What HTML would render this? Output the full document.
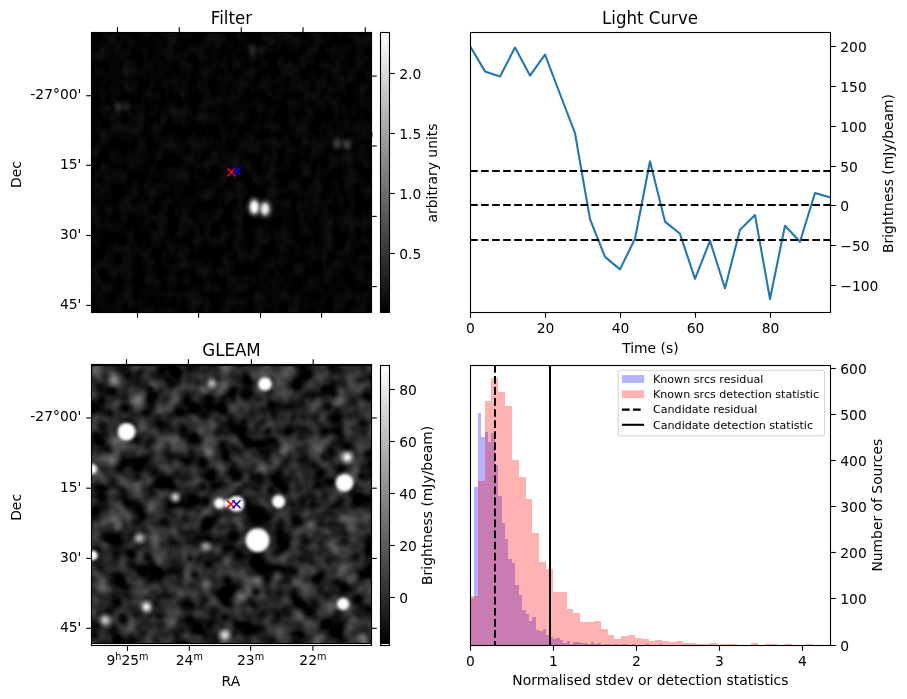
<!DOCTYPE html>
<html lang="en"><head><meta charset="utf-8"><title>Candidate diagnostic plot</title>
<style>html,body{margin:0;padding:0;background:#fff;}svg{display:block;}text{font-family:'DejaVu Sans','Liberation Sans',sans-serif;fill:#000;}</style>
</head><body>
<svg width="907" height="699" viewBox="0 0 907 699">
<defs>
<linearGradient id="gcb" x1="0" y1="0" x2="0" y2="1"><stop offset="0" stop-color="#fff"/><stop offset="1" stop-color="#000"/></linearGradient>
<radialGradient id="gw"><stop offset="0.0" stop-color="#fff" stop-opacity="1.000"/><stop offset="0.1" stop-color="#fff" stop-opacity="0.970"/><stop offset="0.2" stop-color="#fff" stop-opacity="0.886"/><stop offset="0.3" stop-color="#fff" stop-opacity="0.761"/><stop offset="0.4" stop-color="#fff" stop-opacity="0.613"/><stop offset="0.5" stop-color="#fff" stop-opacity="0.461"/><stop offset="0.6" stop-color="#fff" stop-opacity="0.321"/><stop offset="0.7" stop-color="#fff" stop-opacity="0.202"/><stop offset="0.8" stop-color="#fff" stop-opacity="0.111"/><stop offset="0.9" stop-color="#fff" stop-opacity="0.045"/><stop offset="1.0" stop-color="#fff" stop-opacity="0.000"/></radialGradient>
<radialGradient id="gk"><stop offset="0.0" stop-color="#000" stop-opacity="1.000"/><stop offset="0.1" stop-color="#000" stop-opacity="0.970"/><stop offset="0.2" stop-color="#000" stop-opacity="0.886"/><stop offset="0.3" stop-color="#000" stop-opacity="0.761"/><stop offset="0.4" stop-color="#000" stop-opacity="0.613"/><stop offset="0.5" stop-color="#000" stop-opacity="0.461"/><stop offset="0.6" stop-color="#000" stop-opacity="0.321"/><stop offset="0.7" stop-color="#000" stop-opacity="0.202"/><stop offset="0.8" stop-color="#000" stop-opacity="0.111"/><stop offset="0.9" stop-color="#000" stop-opacity="0.045"/><stop offset="1.0" stop-color="#000" stop-opacity="0.000"/></radialGradient>
<filter id="b15" x="-50%" y="-50%" width="200%" height="200%"><feGaussianBlur stdDeviation="1.5"/></filter>
<filter id="b1" x="-50%" y="-50%" width="200%" height="200%"><feGaussianBlur stdDeviation="1.2"/></filter>
<filter id="b2" x="-50%" y="-50%" width="200%" height="200%"><feGaussianBlur stdDeviation="2.2"/></filter>
<filter id="b3" x="-50%" y="-50%" width="200%" height="200%"><feGaussianBlur stdDeviation="3.2"/></filter>
<filter id="noiseG" x="0" y="0" width="100%" height="100%" color-interpolation-filters="sRGB"><feTurbulence type="fractalNoise" baseFrequency="0.055" numOctaves="2" seed="7"/><feColorMatrix type="matrix" values="0.68 0 0 0 -0.2  0.68 0 0 0 -0.2  0.68 0 0 0 -0.2  0 0 0 0 1"/></filter>
<filter id="noiseF" x="0" y="0" width="100%" height="100%" color-interpolation-filters="sRGB"><feTurbulence type="fractalNoise" baseFrequency="0.09 0.065" numOctaves="2" seed="11"/><feColorMatrix type="matrix" values="0.14 0 0 0 -0.05  0.14 0 0 0 -0.05  0.14 0 0 0 -0.05  0 0 0 0 1"/></filter>
<clipPath id="cTL"><rect x="91.50" y="32.50" width="280.00" height="280.00"/></clipPath>
<clipPath id="cBL"><rect x="91.50" y="364.50" width="280.00" height="281.00"/></clipPath>
<clipPath id="cBR"><rect x="470.50" y="365.50" width="360.00" height="280.00"/></clipPath>
<clipPath id="cTR"><rect x="470.50" y="32.50" width="360.00" height="280.00"/></clipPath>
</defs>
<rect width="907" height="699" fill="#fff"/>
<g clip-path="url(#cTL)">
<rect x="91.50" y="32.50" width="280.00" height="280.00" fill="#060606"/>
<rect x="91.50" y="32.50" width="280.00" height="280.00" filter="url(#noiseF)"/>
<ellipse cx="254.3" cy="206.9" rx="3.9" ry="6.0" fill="#ffffff" opacity="1.0" filter="url(#b15)"/>
<ellipse cx="265.0" cy="208.9" rx="3.7" ry="5.6" fill="#ffffff" opacity="0.88" filter="url(#b15)"/>
<ellipse cx="254.3" cy="206.9" rx="5.6" ry="8.8" fill="#ffffff" opacity="0.5" filter="url(#b2)"/>
<ellipse cx="265.0" cy="208.9" rx="5.6" ry="8.5" fill="#ffffff" opacity="0.45" filter="url(#b2)"/>
<ellipse cx="337.0" cy="143.6" rx="3.6" ry="5.4" fill="#ffffff" opacity="0.27" filter="url(#b2)"/>
<ellipse cx="347.0" cy="144.4" rx="3.6" ry="5.4" fill="#ffffff" opacity="0.26" filter="url(#b2)"/>
<ellipse cx="118.0" cy="106.4" rx="3.4" ry="5.2" fill="#ffffff" opacity="0.19" filter="url(#b2)"/>
<ellipse cx="126.0" cy="106.2" rx="3.4" ry="5.2" fill="#ffffff" opacity="0.13" filter="url(#b2)"/>
<ellipse cx="252.0" cy="49.6" rx="3.6" ry="5.2" fill="#ffffff" opacity="0.14" filter="url(#b2)"/>
<ellipse cx="262.0" cy="50.0" rx="3.0" ry="4.6" fill="#ffffff" opacity="0.08" filter="url(#b2)"/>
</g>
<g clip-path="url(#cBL)">
<rect x="91.50" y="364.50" width="280.00" height="281.00" fill="#2a2a2a"/>
<rect x="91.50" y="364.50" width="280.00" height="281.00" filter="url(#noiseG)"/>
<circle cx="128" cy="375" r="8.5" fill="url(#gk)" opacity="0.90"/>
<circle cx="125" cy="408" r="11.4" fill="url(#gk)" opacity="0.95"/>
<circle cx="209" cy="400" r="11.4" fill="url(#gk)" opacity="0.95"/>
<circle cx="183" cy="430" r="10.4" fill="url(#gk)" opacity="0.90"/>
<circle cx="155" cy="472" r="9.5" fill="url(#gk)" opacity="0.90"/>
<circle cx="150" cy="390" r="7.6" fill="url(#gk)" opacity="0.80"/>
<circle cx="137" cy="477" r="7.6" fill="url(#gk)" opacity="0.80"/>
<circle cx="102" cy="427" r="7.6" fill="url(#gk)" opacity="0.70"/>
<circle cx="203" cy="487" r="7.6" fill="url(#gk)" opacity="0.80"/>
<circle cx="246" cy="395" r="9.5" fill="url(#gk)" opacity="0.90"/>
<circle cx="244" cy="422" r="8.5" fill="url(#gk)" opacity="0.85"/>
<circle cx="268" cy="431" r="7.6" fill="url(#gk)" opacity="0.80"/>
<circle cx="236" cy="476" r="9.5" fill="url(#gk)" opacity="0.90"/>
<circle cx="262" cy="451" r="7.6" fill="url(#gk)" opacity="0.80"/>
<circle cx="260" cy="482" r="7.6" fill="url(#gk)" opacity="0.80"/>
<circle cx="324" cy="457" r="8.5" fill="url(#gk)" opacity="0.85"/>
<circle cx="362" cy="476" r="8.5" fill="url(#gk)" opacity="0.85"/>
<circle cx="328" cy="407" r="8.5" fill="url(#gk)" opacity="0.80"/>
<circle cx="274" cy="413" r="7.6" fill="url(#gk)" opacity="0.75"/>
<circle cx="208" cy="522" r="10.4" fill="url(#gk)" opacity="0.95"/>
<circle cx="117" cy="602" r="10.4" fill="url(#gk)" opacity="0.95"/>
<circle cx="147.5" cy="557.5" r="8.5" fill="url(#gk)" opacity="0.90"/>
<circle cx="195" cy="574.6" r="8.5" fill="url(#gk)" opacity="0.90"/>
<circle cx="225" cy="618" r="10.4" fill="url(#gk)" opacity="0.90"/>
<circle cx="100" cy="567.5" r="7.6" fill="url(#gk)" opacity="0.75"/>
<circle cx="120" cy="579.6" r="7.6" fill="url(#gk)" opacity="0.75"/>
<circle cx="190" cy="558.5" r="7.6" fill="url(#gk)" opacity="0.80"/>
<circle cx="123" cy="620" r="7.6" fill="url(#gk)" opacity="0.75"/>
<circle cx="182" cy="630" r="7.6" fill="url(#gk)" opacity="0.70"/>
<circle cx="258" cy="519" r="18.1" fill="url(#gk)" opacity="1.00"/>
<circle cx="256" cy="516" r="11.4" fill="url(#gk)" opacity="1.00"/>
<circle cx="255.5" cy="563" r="16.1" fill="url(#gk)" opacity="1.00"/>
<circle cx="255.5" cy="561" r="9.5" fill="url(#gk)" opacity="1.00"/>
<circle cx="235" cy="535" r="9.5" fill="url(#gk)" opacity="0.85"/>
<circle cx="281" cy="541" r="9.5" fill="url(#gk)" opacity="0.85"/>
<circle cx="296.6" cy="520" r="8.5" fill="url(#gk)" opacity="0.85"/>
<circle cx="256" cy="592" r="8.5" fill="url(#gk)" opacity="0.85"/>
<circle cx="358" cy="600" r="8.5" fill="url(#gk)" opacity="0.85"/>
<circle cx="331" cy="621" r="8.5" fill="url(#gk)" opacity="0.80"/>
<circle cx="337" cy="582.7" r="7.6" fill="url(#gk)" opacity="0.80"/>
<circle cx="357" cy="556" r="7.6" fill="url(#gk)" opacity="0.75"/>
<circle cx="205" cy="502.2" r="9.5" fill="url(#gk)" opacity="0.95"/>
<circle cx="237.2" cy="475.7" r="9.5" fill="url(#gk)" opacity="0.90"/>
<circle cx="258.7" cy="476.4" r="8.5" fill="url(#gk)" opacity="0.85"/>
<circle cx="253" cy="511" r="13.3" fill="url(#gk)" opacity="0.95"/>
<circle cx="267" cy="517" r="12.3" fill="url(#gk)" opacity="0.95"/>
<circle cx="271.5" cy="490.7" r="8.5" fill="url(#gk)" opacity="0.85"/>
<circle cx="281.6" cy="540" r="8.5" fill="url(#gk)" opacity="0.85"/>
<circle cx="234" cy="537" r="8.5" fill="url(#gk)" opacity="0.85"/>
<circle cx="256.5" cy="557" r="9.5" fill="url(#gk)" opacity="0.90"/>
<circle cx="297" cy="521.5" r="8.5" fill="url(#gk)" opacity="0.80"/>
<circle cx="260" cy="513.5" r="6.5" fill="#000" opacity="0.85" filter="url(#b2)"/>
<circle cx="256" cy="562" r="4.5" fill="#000" opacity="0.85" filter="url(#b2)"/>
<circle cx="205" cy="502.2" r="3" fill="#000" opacity="0.85" filter="url(#b2)"/>
<circle cx="208.6" cy="522.2" r="3" fill="#000" opacity="0.85" filter="url(#b2)"/>
<circle cx="237.2" cy="475.7" r="3" fill="#000" opacity="0.85" filter="url(#b2)"/>
<circle cx="125" cy="408" r="3.5" fill="#000" opacity="0.85" filter="url(#b2)"/>
<circle cx="209" cy="400" r="3.5" fill="#000" opacity="0.85" filter="url(#b2)"/>
<circle cx="117" cy="602" r="3.2" fill="#000" opacity="0.85" filter="url(#b2)"/>
<circle cx="208" cy="522" r="3.2" fill="#000" opacity="0.85" filter="url(#b2)"/>
<circle cx="114" cy="380" r="10.2" fill="url(#gw)" opacity="0.38"/>
<circle cx="138" cy="398" r="10.2" fill="url(#gw)" opacity="0.3"/>
<circle cx="111" cy="460.7" r="13.6" fill="url(#gw)" opacity="0.22"/>
<circle cx="209" cy="453" r="10.2" fill="url(#gw)" opacity="0.2"/>
<circle cx="167" cy="435" r="15.3" fill="url(#gw)" opacity="0.12"/>
<circle cx="293" cy="371" r="10.2" fill="url(#gw)" opacity="0.22"/>
<circle cx="341" cy="400" r="10.2" fill="url(#gw)" opacity="0.22"/>
<circle cx="358" cy="391" r="8.5" fill="url(#gw)" opacity="0.15"/>
<circle cx="284" cy="451" r="9.3" fill="url(#gw)" opacity="0.2"/>
<circle cx="312" cy="459" r="10.2" fill="url(#gw)" opacity="0.14"/>
<circle cx="117" cy="527" r="10.2" fill="url(#gw)" opacity="0.28"/>
<circle cx="159.6" cy="559.5" r="10.2" fill="url(#gw)" opacity="0.2"/>
<circle cx="206" cy="585.7" r="10.2" fill="url(#gw)" opacity="0.27"/>
<circle cx="311.7" cy="525" r="10.2" fill="url(#gw)" opacity="0.3"/>
<circle cx="257" cy="580.6" r="10.2" fill="url(#gw)" opacity="0.36"/>
<circle cx="240" cy="597" r="10.2" fill="url(#gw)" opacity="0.3"/>
<circle cx="277.4" cy="576.6" r="9.3" fill="url(#gw)" opacity="0.3"/>
<circle cx="298.6" cy="615" r="10.2" fill="url(#gw)" opacity="0.28"/>
<circle cx="345" cy="519" r="10.2" fill="url(#gw)" opacity="0.2"/>
<circle cx="363" cy="638" r="10.2" fill="url(#gw)" opacity="0.3"/>
<circle cx="347" cy="567.5" r="15.3" fill="url(#gw)" opacity="0.18"/>
<circle cx="330" cy="545" r="13.6" fill="url(#gw)" opacity="0.12"/>
<circle cx="310" cy="590" r="13.6" fill="url(#gw)" opacity="0.12"/>
<circle cx="223" cy="521.5" r="8.5" fill="url(#gw)" opacity="0.12"/>
<circle cx="347.2" cy="457.1" r="9.5" fill="url(#gw)" opacity="0.95"/>
<circle cx="139.4" cy="538.3" r="8.5" fill="url(#gw)" opacity="0.62"/>
<circle cx="206" cy="546.4" r="8.5" fill="url(#gw)" opacity="0.5"/>
<circle cx="175.4" cy="497.2" r="8.5" fill="url(#gw)" opacity="0.78"/>
<circle cx="211.8" cy="383.5" r="8.5" fill="url(#gw)" opacity="0.62"/>
<circle cx="146.5" cy="606.9" r="9.5" fill="url(#gw)" opacity="0.92"/>
<circle cx="105" cy="620" r="9.5" fill="url(#gw)" opacity="0.72"/>
<circle cx="225" cy="635" r="9" fill="url(#gw)" opacity="0.78"/>
<circle cx="126.6" cy="431.7" r="12.6" fill="url(#gw)" opacity="0.45"/>
<circle cx="126.6" cy="431.7" r="8.8" fill="#fff" filter="url(#b15)"/>
<circle cx="92" cy="469.1" r="8.7" fill="url(#gw)" opacity="0.45"/>
<circle cx="92" cy="469.1" r="4.8" fill="#fff" filter="url(#b15)"/>
<circle cx="265" cy="384" r="10.5" fill="url(#gw)" opacity="0.45"/>
<circle cx="265" cy="384" r="6.6" fill="#fff" filter="url(#b15)"/>
<circle cx="344.6" cy="482.8" r="12.7" fill="url(#gw)" opacity="0.45"/>
<circle cx="344.6" cy="482.8" r="8.8" fill="#fff" filter="url(#b15)"/>
<circle cx="278.6" cy="501.6" r="10.2" fill="url(#gw)" opacity="0.45"/>
<circle cx="278.6" cy="501.6" r="6.3" fill="#fff" filter="url(#b15)"/>
<circle cx="219.5" cy="503.3" r="9.0" fill="url(#gw)" opacity="0.45"/>
<circle cx="219.5" cy="503.3" r="5.1" fill="#fff" filter="url(#b15)"/>
<circle cx="236.3" cy="503.7" r="11.7" fill="url(#gw)" opacity="0.45"/>
<circle cx="236.3" cy="503.7" r="7.8" fill="#fff" filter="url(#b15)"/>
<circle cx="227.5" cy="503.5" r="7.5" fill="url(#gw)" opacity="0.45"/>
<circle cx="227.5" cy="503.5" r="3.6" fill="#fff" filter="url(#b15)"/>
<circle cx="257.5" cy="540.2" r="15.5" fill="url(#gw)" opacity="0.45"/>
<circle cx="257.5" cy="540.2" r="11.7" fill="#fff" filter="url(#b15)"/>
<circle cx="92.8" cy="555.4" r="8.5" fill="url(#gw)" opacity="0.45"/>
<circle cx="92.8" cy="555.4" r="4.6" fill="#fff" filter="url(#b15)"/>
<circle cx="343" cy="603.9" r="9.7" fill="url(#gw)" opacity="0.45"/>
<circle cx="343" cy="603.9" r="5.8" fill="#fff" filter="url(#b15)"/>
<rect x="91.50" y="643" width="280.00" height="1" fill="#000"/>
<rect x="91.50" y="644" width="280.00" height="1.5" fill="#fff"/>
<rect x="91.50" y="364.5" width="280.00" height="1.5" fill="#000"/>
</g>
<path d="M227.40 168.40L235.40 176.40M227.40 176.40L235.40 168.40" stroke="#ff0000" stroke-width="1.6" fill="none"/>
<path d="M232.70 167.30L240.70 175.30M232.70 175.30L240.70 167.30" stroke="#0000ff" stroke-width="1.6" fill="none"/>
<path d="M226.80 500.30L234.80 508.30M226.80 508.30L234.80 500.30" stroke="#ff0000" stroke-width="1.6" fill="none"/>
<path d="M232.50 500.30L240.50 508.30M232.50 508.30L240.50 500.30" stroke="#0000ff" stroke-width="1.6" fill="none"/>
<rect x="380.50" y="32.50" width="9.00" height="280.00" fill="url(#gcb)"/>
<rect x="380.50" y="365.50" width="9.00" height="280.00" fill="url(#gcb)"/>
<rect x="380.50" y="644" width="9.00" height="1.5" fill="#fff"/>
<rect x="380.50" y="32.50" width="9.00" height="280.00" fill="none" stroke="#000" stroke-width="1.11" />
<rect x="380.50" y="365.50" width="9.00" height="280.00" fill="none" stroke="#000" stroke-width="1.11" />
<line x1="389.50" y1="73.50" x2="394.80" y2="73.50" stroke="#000" stroke-width="1.11" />
<text x="399.20" y="78.60" font-size="13.89" text-anchor="start" >2.0</text>
<line x1="389.50" y1="133.50" x2="394.80" y2="133.50" stroke="#000" stroke-width="1.11" />
<text x="399.20" y="138.60" font-size="13.89" text-anchor="start" >1.5</text>
<line x1="389.50" y1="193.50" x2="394.80" y2="193.50" stroke="#000" stroke-width="1.11" />
<text x="399.20" y="198.60" font-size="13.89" text-anchor="start" >1.0</text>
<line x1="389.50" y1="253.50" x2="394.80" y2="253.50" stroke="#000" stroke-width="1.11" />
<text x="399.20" y="258.60" font-size="13.89" text-anchor="start" >0.5</text>
<line x1="389.50" y1="389.50" x2="394.80" y2="389.50" stroke="#000" stroke-width="1.11" />
<text x="399.20" y="394.60" font-size="13.89" text-anchor="start" >80</text>
<line x1="389.50" y1="441.50" x2="394.80" y2="441.50" stroke="#000" stroke-width="1.11" />
<text x="399.20" y="446.60" font-size="13.89" text-anchor="start" >60</text>
<line x1="389.50" y1="493.50" x2="394.80" y2="493.50" stroke="#000" stroke-width="1.11" />
<text x="399.20" y="498.60" font-size="13.89" text-anchor="start" >40</text>
<line x1="389.50" y1="545.50" x2="394.80" y2="545.50" stroke="#000" stroke-width="1.11" />
<text x="399.20" y="550.60" font-size="13.89" text-anchor="start" >20</text>
<line x1="389.50" y1="597.50" x2="394.80" y2="597.50" stroke="#000" stroke-width="1.11" />
<text x="399.20" y="602.60" font-size="13.89" text-anchor="start" >0</text>
<text transform="translate(436.80,173.00) rotate(-90)" font-size="13.89" text-anchor="middle">arbitrary units</text>
<text transform="translate(432.30,505.40) rotate(-90)" font-size="13.89" text-anchor="middle">Brightness (mJy/beam)</text>
<rect x="91.50" y="32.50" width="280.00" height="280.00" fill="none" stroke="#000" stroke-width="1.11" />
<rect x="91.50" y="364.50" width="280.00" height="281.00" fill="none" stroke="#000" stroke-width="1.11" />
<line x1="117.50" y1="27.20" x2="117.50" y2="32.50" stroke="#000" stroke-width="1.11" />
<line x1="179.30" y1="27.20" x2="179.30" y2="32.50" stroke="#000" stroke-width="1.11" />
<line x1="241.30" y1="27.20" x2="241.30" y2="32.50" stroke="#000" stroke-width="1.11" />
<line x1="303.00" y1="27.20" x2="303.00" y2="32.50" stroke="#000" stroke-width="1.11" />
<line x1="365.30" y1="27.20" x2="365.30" y2="32.50" stroke="#000" stroke-width="1.11" />
<line x1="137.50" y1="312.50" x2="137.50" y2="317.80" stroke="#000" stroke-width="1.11" />
<line x1="198.60" y1="312.50" x2="198.60" y2="317.80" stroke="#000" stroke-width="1.11" />
<line x1="260.50" y1="312.50" x2="260.50" y2="317.80" stroke="#000" stroke-width="1.11" />
<line x1="321.60" y1="312.50" x2="321.60" y2="317.80" stroke="#000" stroke-width="1.11" />
<line x1="86.20" y1="95.75" x2="91.50" y2="95.75" stroke="#000" stroke-width="1.11" />
<line x1="86.20" y1="165.30" x2="91.50" y2="165.30" stroke="#000" stroke-width="1.11" />
<line x1="86.20" y1="235.50" x2="91.50" y2="235.50" stroke="#000" stroke-width="1.11" />
<line x1="86.20" y1="305.40" x2="91.50" y2="305.40" stroke="#000" stroke-width="1.11" />
<line x1="371.50" y1="76.10" x2="376.80" y2="76.10" stroke="#000" stroke-width="1.11" />
<line x1="371.50" y1="146.00" x2="376.80" y2="146.00" stroke="#000" stroke-width="1.11" />
<line x1="371.50" y1="216.40" x2="376.80" y2="216.40" stroke="#000" stroke-width="1.11" />
<line x1="371.50" y1="286.60" x2="376.80" y2="286.60" stroke="#000" stroke-width="1.11" />
<rect x="372.05" y="132.6" width="0.9" height="4.6" fill="#000" opacity="0.45"/>
<text x="81.40" y="99.05" font-size="13.89" text-anchor="end" >-27°00'</text>
<text x="81.40" y="168.60" font-size="13.89" text-anchor="end" >15'</text>
<text x="81.40" y="238.80" font-size="13.89" text-anchor="end" >30'</text>
<text x="81.40" y="308.70" font-size="13.89" text-anchor="end" >45'</text>
<line x1="127.50" y1="645.50" x2="127.50" y2="650.80" stroke="#000" stroke-width="1.11" />
<line x1="189.30" y1="645.50" x2="189.30" y2="650.80" stroke="#000" stroke-width="1.11" />
<line x1="250.60" y1="645.50" x2="250.60" y2="650.80" stroke="#000" stroke-width="1.11" />
<line x1="312.90" y1="645.50" x2="312.90" y2="650.80" stroke="#000" stroke-width="1.11" />
<line x1="126.50" y1="359.20" x2="126.50" y2="364.50" stroke="#000" stroke-width="1.11" />
<line x1="188.40" y1="359.20" x2="188.40" y2="364.50" stroke="#000" stroke-width="1.11" />
<line x1="251.40" y1="359.20" x2="251.40" y2="364.50" stroke="#000" stroke-width="1.11" />
<line x1="313.20" y1="359.20" x2="313.20" y2="364.50" stroke="#000" stroke-width="1.11" />
<line x1="86.20" y1="418.00" x2="91.50" y2="418.00" stroke="#000" stroke-width="1.11" />
<line x1="371.50" y1="418.00" x2="376.80" y2="418.00" stroke="#000" stroke-width="1.11" />
<line x1="86.20" y1="488.20" x2="91.50" y2="488.20" stroke="#000" stroke-width="1.11" />
<line x1="371.50" y1="488.20" x2="376.80" y2="488.20" stroke="#000" stroke-width="1.11" />
<line x1="86.20" y1="558.40" x2="91.50" y2="558.40" stroke="#000" stroke-width="1.11" />
<line x1="371.50" y1="558.40" x2="376.80" y2="558.40" stroke="#000" stroke-width="1.11" />
<line x1="86.20" y1="628.30" x2="91.50" y2="628.30" stroke="#000" stroke-width="1.11" />
<line x1="371.50" y1="628.30" x2="376.80" y2="628.30" stroke="#000" stroke-width="1.11" />
<text x="81.40" y="421.30" font-size="13.89" text-anchor="end" >-27°00'</text>
<text x="81.40" y="491.50" font-size="13.89" text-anchor="end" >15'</text>
<text x="81.40" y="561.70" font-size="13.89" text-anchor="end" >30'</text>
<text x="81.40" y="631.60" font-size="13.89" text-anchor="end" >45'</text>
<text x="127.50" y="664.9" font-size="13.89" text-anchor="middle"><tspan dy="0">9</tspan><tspan font-size="9.72" dy="-5.1">h</tspan><tspan dy="5.1">25</tspan><tspan font-size="9.72" dy="-5.1">m</tspan></text>
<text x="189.30" y="664.9" font-size="13.89" text-anchor="middle"><tspan dy="0">24</tspan><tspan font-size="9.72" dy="-5.1">m</tspan></text>
<text x="250.60" y="664.9" font-size="13.89" text-anchor="middle"><tspan dy="0">23</tspan><tspan font-size="9.72" dy="-5.1">m</tspan></text>
<text x="312.90" y="664.9" font-size="13.89" text-anchor="middle"><tspan dy="0">22</tspan><tspan font-size="9.72" dy="-5.1">m</tspan></text>
<text x="230.90" y="685.50" font-size="13.89" text-anchor="middle" >RA</text>
<text transform="translate(20.90,174.50) rotate(-90)" font-size="13.89" text-anchor="middle">Dec</text>
<text transform="translate(20.90,507.40) rotate(-90)" font-size="13.89" text-anchor="middle">Dec</text>
<text transform="translate(231.50,23.90) scale(1,1.1)" font-size="16.67" text-anchor="middle">Filter</text>
<text transform="translate(650.00,23.90) scale(1,1.1)" font-size="16.67" text-anchor="middle">Light Curve</text>
<text transform="translate(231.50,355.80) scale(1,1.1)" font-size="16.67" text-anchor="middle">GLEAM</text>
<g clip-path="url(#cTR)">
<polyline points="470.00,46.00 485.00,71.40 500.00,76.40 515.00,47.60 530.00,75.60 545.00,54.70 560.00,94.00 575.00,133.20 590.00,219.10 605.00,256.90 620.00,269.40 635.00,238.70 650.00,161.30 665.00,221.60 680.00,233.80 695.00,278.80 710.00,240.90 725.00,288.20 740.00,229.70 755.00,215.10 770.00,299.00 785.00,225.70 800.00,241.70 815.00,193.00 830.00,197.40" fill="none" stroke="#1f77b4" stroke-width="2.08" stroke-linejoin="round" stroke-linecap="square"/>
<line x1="470.00" y1="171.00" x2="830.50" y2="171.00" stroke="#000" stroke-width="2.0" stroke-dasharray="7.71 3.33"/>
<line x1="470.00" y1="205.00" x2="830.50" y2="205.00" stroke="#000" stroke-width="2.0" stroke-dasharray="7.71 3.33"/>
<line x1="470.00" y1="240.00" x2="830.50" y2="240.00" stroke="#000" stroke-width="2.0" stroke-dasharray="7.71 3.33"/>
</g>
<rect x="470.50" y="32.50" width="360.00" height="280.00" fill="none" stroke="#000" stroke-width="1.11" />
<line x1="470.50" y1="312.50" x2="470.50" y2="317.80" stroke="#000" stroke-width="1.11" />
<text x="470.50" y="332.60" font-size="13.89" text-anchor="middle" >0</text>
<line x1="545.50" y1="312.50" x2="545.50" y2="317.80" stroke="#000" stroke-width="1.11" />
<text x="545.50" y="332.60" font-size="13.89" text-anchor="middle" >20</text>
<line x1="620.50" y1="312.50" x2="620.50" y2="317.80" stroke="#000" stroke-width="1.11" />
<text x="620.50" y="332.60" font-size="13.89" text-anchor="middle" >40</text>
<line x1="695.50" y1="312.50" x2="695.50" y2="317.80" stroke="#000" stroke-width="1.11" />
<text x="695.50" y="332.60" font-size="13.89" text-anchor="middle" >60</text>
<line x1="770.50" y1="312.50" x2="770.50" y2="317.80" stroke="#000" stroke-width="1.11" />
<text x="770.50" y="332.60" font-size="13.89" text-anchor="middle" >80</text>
<line x1="830.50" y1="46.50" x2="835.80" y2="46.50" stroke="#000" stroke-width="1.11" />
<text x="840.30" y="51.70" font-size="13.89" text-anchor="start" >200</text>
<line x1="830.50" y1="86.50" x2="835.80" y2="86.50" stroke="#000" stroke-width="1.11" />
<text x="840.30" y="91.70" font-size="13.89" text-anchor="start" >150</text>
<line x1="830.50" y1="126.50" x2="835.80" y2="126.50" stroke="#000" stroke-width="1.11" />
<text x="840.30" y="131.70" font-size="13.89" text-anchor="start" >100</text>
<line x1="830.50" y1="166.50" x2="835.80" y2="166.50" stroke="#000" stroke-width="1.11" />
<text x="840.30" y="171.70" font-size="13.89" text-anchor="start" >50</text>
<line x1="830.50" y1="205.50" x2="835.80" y2="205.50" stroke="#000" stroke-width="1.11" />
<text x="840.30" y="210.70" font-size="13.89" text-anchor="start" >0</text>
<line x1="830.50" y1="245.50" x2="835.80" y2="245.50" stroke="#000" stroke-width="1.11" />
<text x="840.30" y="250.70" font-size="13.89" text-anchor="start" >−50</text>
<line x1="830.50" y1="285.50" x2="835.80" y2="285.50" stroke="#000" stroke-width="1.11" />
<text x="840.30" y="290.70" font-size="13.89" text-anchor="start" >−100</text>
<text x="650.40" y="352.60" font-size="13.89" text-anchor="middle" >Time (s)</text>
<text transform="translate(893.10,173.50) rotate(-90)" font-size="13.89" text-anchor="middle">Brightness (mJy/beam)</text>
<g clip-path="url(#cBR)">
<path d="M471 645V598H474V487H478V413H481V437H485V432H488V442H491V433H495V465H498V496H502V523H505V539H508V559H512V563H515V585H519V595H522V610H526V614H529V621H532V617H536V630H539V631H543V629H546V635H550V637H553V639H556V638H560V640H563V643H567V641H570V644H573V642H577V642H580V643H584V643H587V644H591V642H594V644H597V643H601V645H604V644H608V644H611V645H614V644H618V645H621V644H625V644H628V645H632V644H635V645H638V645H642V645H645V644H649V645H652V645H655V645H659V644H662V645Z" fill="#0000ff" fill-opacity="0.3"/>
<path d="M471 645V596H478V481H485V401H491V378H498V392H505V406H512V460H519V477H526V499H532V533H539V562H546V569H553V592H560V592H567V609H573V613H580V622H587V622H594V621H601V629H608V635H614V639H621V636H628V635H635V638H642V639H649V641H655V640H662V641H669V642H676V641H683V643H690V643H696V644H703V644H710V643H717V644H724V644H731V644H737V645H744V645H751V643H758V645H765V644H772V644H778V645H785V644H792V645H799V645H806V644H813V645Z" fill="#ff0000" fill-opacity="0.3"/>
<line x1="495.00" y1="365.00" x2="495.00" y2="645.50" stroke="#000" stroke-width="2.0" stroke-dasharray="7.71 3.33"/>
<line x1="550.00" y1="365.00" x2="550.00" y2="645.50" stroke="#000" stroke-width="2.0" />
</g>
<rect x="470.50" y="365.50" width="360.00" height="280.00" fill="none" stroke="#000" stroke-width="1.11" />
<line x1="470.50" y1="645.50" x2="470.50" y2="650.80" stroke="#000" stroke-width="1.11" />
<text x="470.50" y="665.50" font-size="13.89" text-anchor="middle" >0</text>
<line x1="553.50" y1="645.50" x2="553.50" y2="650.80" stroke="#000" stroke-width="1.11" />
<text x="553.50" y="665.50" font-size="13.89" text-anchor="middle" >1</text>
<line x1="636.50" y1="645.50" x2="636.50" y2="650.80" stroke="#000" stroke-width="1.11" />
<text x="636.50" y="665.50" font-size="13.89" text-anchor="middle" >2</text>
<line x1="719.50" y1="645.50" x2="719.50" y2="650.80" stroke="#000" stroke-width="1.11" />
<text x="719.50" y="665.50" font-size="13.89" text-anchor="middle" >3</text>
<line x1="802.50" y1="645.50" x2="802.50" y2="650.80" stroke="#000" stroke-width="1.11" />
<text x="802.50" y="665.50" font-size="13.89" text-anchor="middle" >4</text>
<line x1="830.50" y1="645.50" x2="835.80" y2="645.50" stroke="#000" stroke-width="1.11" />
<text x="840.30" y="650.70" font-size="13.89" text-anchor="start" >0</text>
<line x1="830.50" y1="598.50" x2="835.80" y2="598.50" stroke="#000" stroke-width="1.11" />
<text x="840.30" y="603.70" font-size="13.89" text-anchor="start" >100</text>
<line x1="830.50" y1="552.50" x2="835.80" y2="552.50" stroke="#000" stroke-width="1.11" />
<text x="840.30" y="557.70" font-size="13.89" text-anchor="start" >200</text>
<line x1="830.50" y1="506.50" x2="835.80" y2="506.50" stroke="#000" stroke-width="1.11" />
<text x="840.30" y="511.70" font-size="13.89" text-anchor="start" >300</text>
<line x1="830.50" y1="460.50" x2="835.80" y2="460.50" stroke="#000" stroke-width="1.11" />
<text x="840.30" y="465.70" font-size="13.89" text-anchor="start" >400</text>
<line x1="830.50" y1="414.50" x2="835.80" y2="414.50" stroke="#000" stroke-width="1.11" />
<text x="840.30" y="419.70" font-size="13.89" text-anchor="start" >500</text>
<line x1="830.50" y1="368.50" x2="835.80" y2="368.50" stroke="#000" stroke-width="1.11" />
<text x="840.30" y="373.70" font-size="13.89" text-anchor="start" >600</text>
<text x="650.40" y="685.40" font-size="13.89" text-anchor="middle" >Normalised stdev or detection statistics</text>
<text transform="translate(882.20,505.20) rotate(-90)" font-size="13.89" text-anchor="middle">Number of Sources</text>
<rect x="618.2" y="370.2" width="206.4" height="65.7" rx="2.2" ry="2.2" fill="#fff" fill-opacity="0.8" stroke="#ccc" stroke-width="1.11" stroke-opacity="0.8"/>
<rect x="621.9" y="375.1" width="22.2" height="7.8" fill="#0000ff" fill-opacity="0.3"/>
<rect x="621.9" y="390.3" width="22.2" height="7.8" fill="#ff0000" fill-opacity="0.3"/>
<line x1="621.90" y1="409.60" x2="643.90" y2="409.60" stroke="#000" stroke-width="2.08" stroke-dasharray="7.71 3.33"/>
<line x1="621.90" y1="424.80" x2="644.10" y2="424.80" stroke="#000" stroke-width="2.08" />
<text x="653.00" y="382.90" font-size="11.11" text-anchor="start" >Known srcs residual</text>
<text x="653.00" y="398.15" font-size="11.11" text-anchor="start" >Known srcs detection statistic</text>
<text x="653.00" y="413.40" font-size="11.11" text-anchor="start" >Candidate residual</text>
<text x="653.00" y="428.65" font-size="11.11" text-anchor="start" >Candidate detection statistic</text>
</svg></body></html>
